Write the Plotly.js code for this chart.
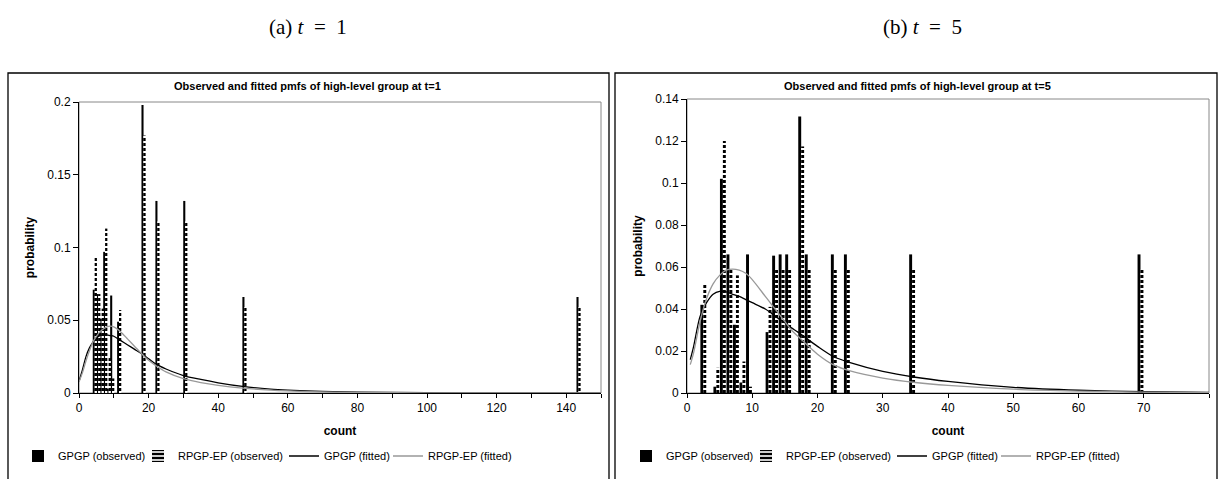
<!DOCTYPE html>
<html><head><meta charset="utf-8">
<script src="https://cdn.plot.ly/plotly-3.0.1.min.js"></script>
<style>html,body{margin:0;padding:0;background:#fff;}#c{width:1225px;height:479px;}</style>
</head><body><div id="c"></div>
<script>
// ---- Panel (a) t=1 : observed pmfs
const countsA = [4, 5, 6, 7, 8, 9, 11, 18, 22, 30, 47, 143];
const gpgpObsA = [0.071, 0.068, 0.051, 0.097, 0.003, 0.067, 0.049, 0.198, 0.132, 0.132, 0.066, 0.066];
const rpgpObsA = [0.093, 0.068, 0.058, 0.113, 0.024, 0.010, 0.057, 0.177, 0.118, 0.118, 0.059, 0.059];
// fitted pmfs (a)
const fitXA = [0, 1, 2, 3, 4, 5, 6, 7, 8, 9, 10, 12, 14, 16, 18, 20, 22, 25, 30, 35, 40, 47, 55, 60, 70, 80, 100, 120, 150];
const gpgpFitA = [0.008, 0.016, 0.025, 0.031, 0.035, 0.038, 0.0395, 0.040, 0.040, 0.0395, 0.039, 0.036, 0.033, 0.030, 0.027, 0.0235, 0.020, 0.0165, 0.012, 0.0093, 0.0070, 0.0045, 0.0027, 0.0020, 0.0011, 0.0006, 0.0002, 0.0001, 0.00003];
const rpgpFitA = [0.0076, 0.014, 0.022, 0.029, 0.035, 0.039, 0.042, 0.044, 0.0455, 0.046, 0.0455, 0.042, 0.037, 0.032, 0.027, 0.0225, 0.019, 0.0145, 0.0099, 0.0072, 0.0053, 0.0034, 0.0020, 0.0014, 0.0007, 0.0003, 0.0001, 0.00003, 0.00001];

// ---- Panel (b) t=5 : observed pmfs
const countsB = [2, 4, 5, 6, 7, 8, 9, 12, 13, 14, 15, 17, 18, 22, 24, 34, 69];
const gpgpObsB = [0.042, 0.003, 0.102, 0.066, 0.0325, 0.005, 0.066, 0.029, 0.0654, 0.066, 0.066, 0.1317, 0.066, 0.066, 0.066, 0.066, 0.066];
const rpgpObsB = [0.052, 0.012, 0.120, 0.059, 0.056, 0.015, 0.003, 0.041, 0.0587, 0.0587, 0.0587, 0.1174, 0.0587, 0.0587, 0.0587, 0.0587, 0.0587];
// fitted pmfs (b)
const fitXB = [0.5, 1, 2, 3, 4, 5, 6, 7, 8, 9, 10, 12, 13, 14, 15, 16, 17, 20, 22.4, 25, 30, 35, 40, 50, 60, 70, 80];
const gpgpFitB = [0.0159, 0.022, 0.0365, 0.043, 0.047, 0.0484, 0.0482, 0.047, 0.046, 0.0445, 0.043, 0.040, 0.0378, 0.0355, 0.0335, 0.031, 0.029, 0.0222, 0.0174, 0.0145, 0.0103, 0.0075, 0.0055, 0.0027, 0.0013, 0.0006, 0.0003];
const rpgpFitB = [0.0135, 0.019, 0.034, 0.045, 0.052, 0.056, 0.0585, 0.059, 0.0585, 0.057, 0.054, 0.046, 0.042, 0.038, 0.034, 0.030, 0.027, 0.0185, 0.0135, 0.0105, 0.0071, 0.0050, 0.0036, 0.0018, 0.0009, 0.0004, 0.0002];

// tick labels
const tickValsA = [0, 10, 20, 30, 40, 50, 60, 70, 80, 90, 100, 110, 120, 130, 140, 150];
const tickTextA = ['0', '', '20', '', '40', '', '60', '', '80', '', '100', '', '120', '', '140', ''];
const tickValsB = [0, 10, 20, 30, 40, 50, 60, 70, 80];
const tickTextB = ['0', '10', '20', '30', '40', '50', '60', '70', ''];

const seriesNames = ['GPGP (observed)', 'RPGP-EP (observed)', 'GPGP (fitted)', 'RPGP-EP (fitted)'];
const titleA = 'Observed and fitted pmfs of high-level group at t=1';
const titleB = 'Observed and fitted pmfs of high-level group at t=5';
const headA = '(a)&nbsp;<i>t</i>&nbsp;&nbsp;=&nbsp;&nbsp;1';
const headB = '(b)&nbsp;<i>t</i>&nbsp;&nbsp;=&nbsp;&nbsp;5';

const FONT = 'Liberation Sans, Arial, sans-serif';
const pattern = {shape: '-', fgcolor: 'black', bgcolor: 'white', fgopacity: 1, size: 5, solidity: 0.6, fillmode: 'overlay'};

function panel(xa, ya, legs, counts, g, r, fx, gf, rf, wide) {
  return [
    {type: 'bar', x: counts, y: g, xaxis: xa, yaxis: ya, legend: legs[0], name: seriesNames[0], showlegend: true,
     offset: wide ? -0.05 : 0.05, width: wide ? 0.6 : 0.45,
     marker: {color: 'black', line: {width: 0}}},
    {type: 'bar', x: counts, y: r, xaxis: xa, yaxis: ya, legend: legs[1], name: seriesNames[1], showlegend: true,
     offset: 0.5, width: wide ? 0.65 : 0.45,
     marker: {color: 'white', line: {width: 0}, pattern: pattern}},
    {type: 'scatter', mode: 'lines', x: fx, y: gf, xaxis: xa, yaxis: ya, legend: legs[2], name: seriesNames[2], showlegend: true,
     line: {color: 'black', width: 1.3, shape: 'spline', smoothing: 0.8}},
    {type: 'scatter', mode: 'lines', x: fx, y: rf, xaxis: xa, yaxis: ya, legend: legs[3], name: seriesNames[3], showlegend: true,
     line: {color: '#999999', width: 1.3, shape: 'spline', smoothing: 0.8}}
  ];
}

const data = [].concat(
  panel('x', 'y', ['legend', 'legend2', 'legend3', 'legend4'], countsA, gpgpObsA, rpgpObsA, fitXA, gpgpFitA, rpgpFitA, true),
  panel('x2', 'y2', ['legend5', 'legend6', 'legend7', 'legend8'], countsB, gpgpObsB, rpgpObsB, fitXB, gpgpFitB, rpgpFitB, false)
);

const W = 1225, H = 479;
const px = v => v / W, py = v => 1 - v / H;

function xax(domain, range, tv, tt, anchor) {
  return {domain: domain, range: range, anchor: anchor, tickmode: 'array', tickvals: tv, ticktext: tt,
    showgrid: false, zeroline: false, showline: true, linecolor: 'black', linewidth: 1,
    ticks: 'outside', ticklen: 4, tickcolor: 'black', tickfont: {family: FONT, size: 12, color: 'black'},
    title: {text: '<b>count</b>', font: {family: FONT, size: 12, color: 'black'}, standoff: 12}};
}
function yax(domain, range, dtick, anchor) {
  return {domain: domain, range: range, anchor: anchor, dtick: dtick, tick0: 0,
    showgrid: false, zeroline: false, showline: true, linecolor: 'black', linewidth: 1,
    ticks: 'outside', ticklen: 5, tickcolor: 'black', tickfont: {family: FONT, size: 12, color: 'black'},
    title: {text: '<b>probability</b>', font: {family: FONT, size: 12, color: 'black'}, standoff: 10}};
}

function leg(xpx) {
  return {orientation: 'h', x: px(xpx), y: py(456), xanchor: 'left', yanchor: 'middle',
    font: {family: FONT, size: 11, color: 'black'}, itemwidth: 30, bgcolor: 'rgba(0,0,0,0)', borderwidth: 0};
}
// each legend's text starts ~40px right of its x
const legX = [18, 138, 284, 388];

const layout = {
  width: W, height: H, margin: {l: 0, r: 0, t: 0, b: 0},
  paper_bgcolor: 'white', plot_bgcolor: 'white', barmode: 'overlay', showlegend: true,
  font: {family: FONT, color: 'black'},
  xaxis: xax([px(79), px(601)], [0, 150], tickValsA, tickTextA, 'y'),
  yaxis: yax([py(393), py(102)], [0, 0.2], 0.05, 'x'),
  xaxis2: xax([px(687), px(1209)], [0, 80], tickValsB, tickTextB, 'y2'),
  yaxis2: yax([py(393), py(99)], [0, 0.14], 0.02, 'x2'),
  legend: leg(legX[0]), legend2: leg(legX[1]), legend3: leg(legX[2]), legend4: leg(legX[3]),
  legend5: leg(legX[0] + 608), legend6: leg(legX[1] + 608), legend7: leg(legX[2] + 608), legend8: leg(legX[3] + 608),
  shapes: [
    {type: 'rect', xref: 'x domain', yref: 'y domain', x0: 0, x1: 1, y0: 0, y1: 1, line: {color: '#888', width: 1}, layer: 'below'},
    {type: 'rect', xref: 'x2 domain', yref: 'y2 domain', x0: 0, x1: 1, y0: 0, y1: 1, line: {color: '#888', width: 1}, layer: 'below'},
    {type: 'rect', xref: 'paper', yref: 'paper', x0: px(8), x1: px(609), y0: -0.02, y1: py(73), line: {color: 'black', width: 1.3}},
    {type: 'rect', xref: 'paper', yref: 'paper', x0: px(615), x1: px(1217), y0: -0.02, y1: py(73), line: {color: 'black', width: 1.3}}
  ],
  annotations: [
    {xref: 'paper', yref: 'paper', x: px(308), y: py(27), xanchor: 'center', yanchor: 'middle', text: headA, showarrow: false,
     font: {family: 'Liberation Serif, serif', size: 21, color: 'black'}},
    {xref: 'paper', yref: 'paper', x: px(922), y: py(27), xanchor: 'center', yanchor: 'middle', text: headB, showarrow: false,
     font: {family: 'Liberation Serif, serif', size: 21, color: 'black'}},
    {xref: 'paper', yref: 'paper', x: px(307), y: py(86), xanchor: 'center', yanchor: 'middle', text: '<b>' + titleA + '</b>', showarrow: false,
     font: {family: FONT, size: 11, color: 'black'}},
    {xref: 'paper', yref: 'paper', x: px(917), y: py(86), xanchor: 'center', yanchor: 'middle', text: '<b>' + titleB + '</b>', showarrow: false,
     font: {family: FONT, size: 11, color: 'black'}}
  ]
};

Plotly.newPlot('c', data, layout, {displayModeBar: false, staticPlot: true});
</script>
</body></html>
